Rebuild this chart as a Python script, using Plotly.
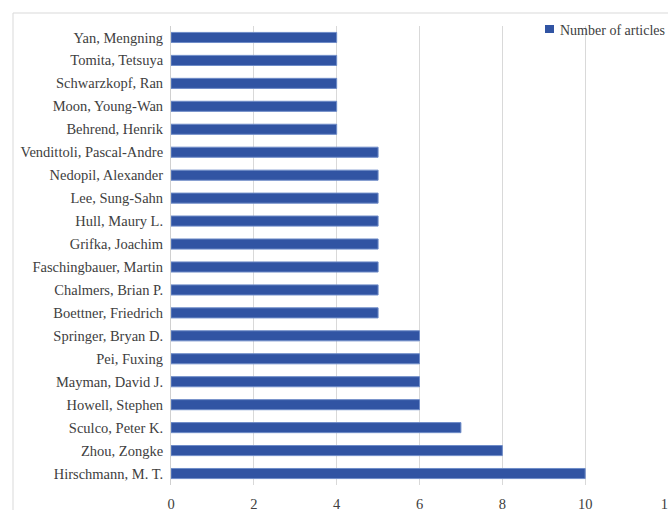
import plotly.graph_objects as go

authors = ["Yan, Mengning", "Tomita, Tetsuya", "Schwarzkopf, Ran", "Moon, Young-Wan",
           "Behrend, Henrik", "Vendittoli, Pascal-Andre", "Nedopil, Alexander",
           "Lee, Sung-Sahn", "Hull, Maury L.", "Grifka, Joachim", "Faschingbauer, Martin",
           "Chalmers, Brian P.", "Boettner, Friedrich", "Springer, Bryan D.", "Pei, Fuxing",
           "Mayman, David J.", "Howell, Stephen", "Sculco, Peter K.", "Zhou, Zongke",
           "Hirschmann, M. T."]
articles = [4, 4, 4, 4, 4, 5, 5, 5, 5, 5, 5, 5, 5, 6, 6, 6, 6, 7, 8, 10]
x_ticks = [0, 2, 4, 6, 8, 10, 12]
series_name = "Number of articles"

font = "Liberation Serif, serif"
bar_color = "#3154a3"

L, T, W, H = 171, 26, 497, 459


def px_x(p):
    return (p - L) / W


def px_y(p):
    return 1 - (p - T) / H


fig = go.Figure(go.Bar(
    y=authors, x=articles, orientation="h", name=series_name,
    marker=dict(color=bar_color, line=dict(color="#6f8cc8", width=1)),
    showlegend=False,
))

fig.update_layout(
    width=668, height=510,
    margin=dict(l=L, r=0, t=T, b=25, autoexpand=False),
    paper_bgcolor="white", plot_bgcolor="white",
    font=dict(family=font, size=14.5, color="#404040"),
    bargap=0.56,
    xaxis=dict(range=[0, 12], tickvals=x_ticks, showgrid=True, gridcolor="#d9d9d9",
               gridwidth=1, zeroline=False, showline=False, automargin=False,
               ticks="", ticklabelstandoff=8, ticklabeloverflow="allow"),
    yaxis=dict(autorange="reversed", showline=True, linecolor="#d0d0d0", linewidth=1,
               showgrid=False, automargin=False, ticks="", ticklabelstandoff=4),
    shapes=[
        dict(type="rect", xref="paper", yref="paper",
             x0=px_x(13), x1=1.2, y0=-0.2, y1=px_y(13),
             line=dict(color="#d9d9d9", width=1), fillcolor="rgba(0,0,0,0)",
             layer="below"),
        dict(type="rect", xref="paper", yref="paper",
             x0=px_x(545), x1=px_x(554), y0=px_y(33), y1=px_y(25),
             line=dict(width=0), fillcolor=bar_color),
    ],
    annotations=[dict(text=series_name, xref="paper", yref="paper",
                      x=px_x(558), y=px_y(30), xanchor="left", yanchor="middle",
                      showarrow=False, font=dict(family=font, size=14, color="#404040"))],
)

fig.write_html("out.html")
